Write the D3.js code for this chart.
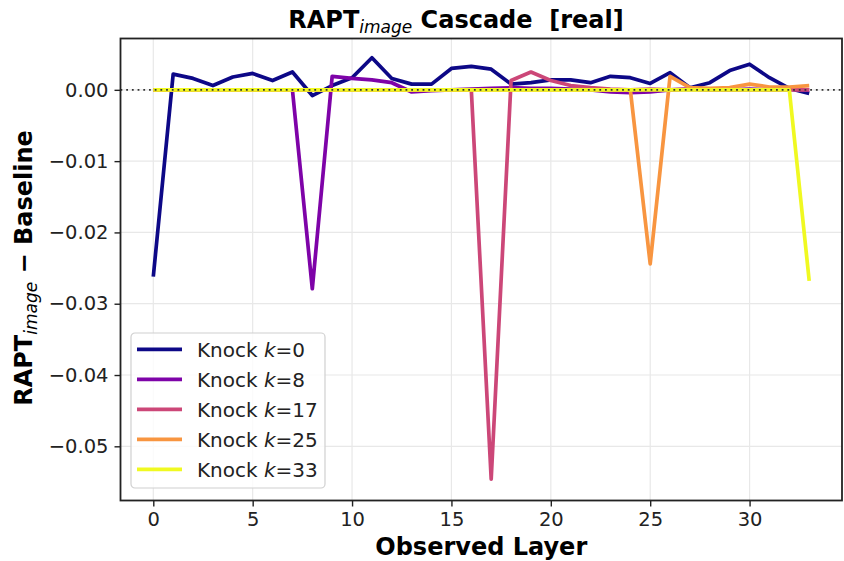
<!DOCTYPE html>
<html>
<head>
<meta charset="utf-8">
<script src="https://cdn.jsdelivr.net/npm/d3@7"></script>
<style>
    body { margin: 0; background: #fff; }
    svg { font-family: "DejaVu Sans", sans-serif; }
    text { white-space: pre; }
</style>
</head>
<body>
<div class="cascadechart"></div>
<script>
// observed layers 0..33
let layers = d3.range(0, 34)

// RAPT_image - baseline for each knocked-out layer k
let knock0 = [-0.0262, 0.0022, 0.0016, 0.0006, 0.0018, 0.0023, 0.0013, 0.0025, -0.0008, 0.0006,
    0.0017, 0.0045, 0.0016, 0.0008, 0.0008, 0.0030, 0.0033, 0.0029, 0.0008, 0.0010,
    0.0014, 0.0014, 0.0010, 0.0019, 0.0017, 0.0009, 0.0024, 0.0003, 0.0010, 0.0027,
    0.0036, 0.0017, 0.0002, -0.0005]
let knock8 = [0, 0, 0, 0, 0, 0, 0, 0, -0.0279, 0.0019,
    0.0016, 0.0014, 0.0010, -0.0003, -0.0001, 0.0000, 0.0001, 0.0002, 0.0003, 0.0002,
    0.0002, 0.0001, 0.0000, -0.0003, -0.0004, -0.0003, 0.0000, 0.0001, 0.0000, 0.0000,
    0.0001, 0.0000, 0.0001, 0.0000]
let knock17 = [0, 0, 0, 0, 0, 0, 0, 0, 0, 0,
    0, 0, 0, 0, 0, 0, 0, -0.0546, 0.0013, 0.0025,
    0.0013, 0.0006, 0.0003, 0.0001, 0.0000, 0.0001, 0.0000, 0.0001, 0.0000, 0.0000,
    0.0000, 0.0000, 0.0000, 0.0000]
let knock25 = [0, 0, 0, 0, 0, 0, 0, 0, 0, 0,
    0, 0, 0, 0, 0, 0, 0, 0, 0, 0,
    0, 0, 0, 0, 0, -0.0244, 0.0019, 0.0003, 0.0002, 0.0003,
    0.0008, 0.0004, 0.0004, 0.0006]
let knock33 = [0, 0, 0, 0, 0, 0, 0, 0, 0, 0,
    0, 0, 0, 0, 0, 0, 0, 0, 0, 0,
    0, 0, 0, 0, 0, 0, 0, 0, 0, 0,
    0, 0, 0, -0.0268]

let seriesNames = ['0', '8', '17', '25', '33']
let seriesValues = [knock0, knock8, knock17, knock25, knock33]
// plasma samples at 0, .25, .5, .75, 1
let seriesColors = ['#0d0887', '#7e03a8', '#cc4778', '#f89540', '#f0f921']

let xTicks = [0, 5, 10, 15, 20, 25, 30]
let yTicks = [0.00, -0.01, -0.02, -0.03, -0.04, -0.05]

function make_chart(w = 844, h = 561) {
    var left = 120.5, right = 842, top = 38.5, bottom = 500.5

    var svg = d3.select('.cascadechart')
        .append('svg')
        .attr('width', w)
        .attr('height', h)

    // matplotlib style 5% padding around the data
    var xScale = d3.scaleLinear()
        .domain([-1.65, 34.65])
        .range([left, right])
    var yScale = d3.scaleLinear()
        .domain([-0.0576, 0.0072])
        .range([bottom, top])

    // grid
    svg.append('g')
        .selectAll('line')
        .data(xTicks)
        .enter()
        .append('line')
        .attr('x1', d => xScale(d)).attr('x2', d => xScale(d))
        .attr('y1', top).attr('y2', bottom)
        .attr('stroke', '#e8e8e8')
        .attr('stroke-width', 1.2)
    svg.append('g')
        .selectAll('line')
        .data(yTicks)
        .enter()
        .append('line')
        .attr('x1', left).attr('x2', right)
        .attr('y1', d => yScale(d)).attr('y2', d => yScale(d))
        .attr('stroke', '#e8e8e8')
        .attr('stroke-width', 1.2)

    // one line per knocked layer
    var line = d3.line()
        .x((d, i) => xScale(layers[i]))
        .y(d => yScale(d))

    svg.append('g')
        .selectAll('path')
        .data(seriesValues)
        .enter()
        .append('path')
        .attr('d', d => line(d))
        .attr('fill', 'none')
        .attr('stroke', (d, i) => seriesColors[i])
        .attr('stroke-width', 3.7)
        .attr('stroke-linejoin', 'round')

    // zero reference
    svg.append('line')
        .attr('x1', left).attr('x2', right)
        .attr('y1', yScale(0)).attr('y2', yScale(0))
        .attr('stroke', '#333')
        .attr('stroke-width', 1.8)
        .attr('stroke-dasharray', '1.8,3.9')

    // axes
    var xAxis = d3.axisBottom(xScale)
        .tickValues(xTicks)
        .tickSize(6)
        .tickPadding(6)
    var yAxis = d3.axisLeft(yScale)
        .tickValues(yTicks)
        .tickFormat(d3.format('.2f'))
        .tickSize(6)
        .tickPadding(6)

    let gx = svg.append('g')
        .attr('transform', 'translate(0,' + bottom + ')')
        .call(xAxis)
    let gy = svg.append('g')
        .attr('transform', 'translate(' + left + ',0)')
        .call(yAxis)
    ;[gx, gy].forEach(g => {
        g.select('.domain').remove()
        g.selectAll('.tick line').attr('stroke', '#222').attr('stroke-width', 1.4)
        g.selectAll('.tick text')
            .attr('fill', '#222')
            .style('font-size', '19.5px')
            .style('font-family', '"DejaVu Sans", sans-serif')
    })

    // frame
    svg.append('rect')
        .attr('x', left).attr('y', top)
        .attr('width', right - left).attr('height', bottom - top)
        .attr('fill', 'none')
        .attr('stroke', '#222')
        .attr('stroke-width', 1.8)

    // title
    let title = svg.append('text')
        .attr('x', 456)
        .attr('y', 28)
        .attr('text-anchor', 'middle')
        .style('font-size', '24px')
        .style('font-weight', 'bold')
        .attr('fill', '#000')
    title.append('tspan').text('RAPT')
    title.append('tspan').attr('dy', 5).style('font-size', '17px')
        .style('font-style', 'italic').style('font-weight', 'normal').text('image')
    title.append('tspan').attr('dy', -5).text(' Cascade  [real]')

    // x label
    svg.append('text')
        .attr('x', (left + right) / 2)
        .attr('y', 555)
        .attr('text-anchor', 'middle')
        .style('font-size', '24px')
        .style('font-weight', 'bold')
        .text('Observed Layer')

    // y label
    let ylab = svg.append('text')
        .attr('transform', 'translate(32,' + 268 + ') rotate(-90)')
        .attr('text-anchor', 'middle')
        .style('font-size', '24px')
        .style('font-weight', 'bold')
    ylab.append('tspan').text('RAPT')
    ylab.append('tspan').attr('dy', 5).style('font-size', '17px')
        .style('font-style', 'italic').style('font-weight', 'normal').text('image')
    ylab.append('tspan').attr('dy', -5).text(' \u2212 Baseline')

    // legend
    let lg = svg.append('g').attr('transform', 'translate(131,333)')
    lg.append('rect')
        .attr('width', 194).attr('height', 155)
        .attr('rx', 4)
        .attr('fill', '#fff').attr('fill-opacity', 0.8)
        .attr('stroke', '#d0d0d0').attr('stroke-width', 1.2)
    let rows = lg.selectAll('.legrow')
        .data(seriesNames)
        .enter()
        .append('g')
        .attr('class', 'legrow')
        .attr('transform', (d, i) => 'translate(0,' + (16.3 + i * 30) + ')')
    rows.append('line')
        .attr('x1', 6).attr('x2', 51)
        .attr('stroke', (d, i) => seriesColors[i])
        .attr('stroke-width', 3.7)
    let lt = rows.append('text')
        .attr('x', 66).attr('y', 7.3)
        .style('font-size', '20px')
        .attr('fill', '#222')
    lt.append('tspan').text('Knock ')
    lt.append('tspan').style('font-style', 'italic').text('k')
    lt.append('tspan').text(d => '=' + d)
}

make_chart()
</script>
</body>
</html>
